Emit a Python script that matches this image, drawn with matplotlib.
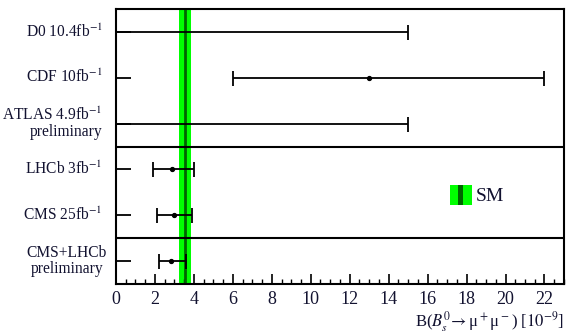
import matplotlib
matplotlib.use("Agg")
import matplotlib.pyplot as plt
from matplotlib.patches import Rectangle
from matplotlib.ticker import MultipleLocator

plt.rcParams['font.family'] = ['Liberation Serif', 'DejaVu Serif']
plt.rcParams['mathtext.fontset'] = 'stix'

txt_color = '#121230'
band_color = '#00ff00'
line_color = '#006400'

# measurements of B(Bs -> mu mu) in units of 1e-9
exp_labels = ['D0 10.4fb$^{-1}$', 'CDF 10fb$^{-1}$', 'ATLAS 4.9fb$^{-1}$\npreliminary',
              'LHCb 3fb$^{-1}$', 'CMS 25fb$^{-1}$', 'CMS+LHCb\npreliminary']
rows = [0.5, 1.5, 2.5, 3.5, 4.5, 5.5]

# upper limits (drawn as a bar from zero)
limit_rows = [0.5, 2.5]
limit_vals = [15.0, 15.0]

# measured values with asymmetric intervals
meas_rows = [1.5, 3.5, 4.5, 5.5]
meas_val = [13.0, 2.9, 3.0, 2.8]
meas_lo = [6.0, 1.9, 2.1, 2.2]
meas_hi = [22.0, 4.0, 3.9, 3.6]

# Standard Model prediction
sm_val = 3.56
sm_err = 0.30

separators = [3.0, 5.0]


class BandHandler:
    def legend_artist(self, legend, orig_handle, fontsize, handlebox):
        x0, y0 = -handlebox.xdescent, -handlebox.ydescent
        w, h = handlebox.width, handlebox.height
        tr = handlebox.get_transform()
        band = Rectangle((x0, y0), w, h, facecolor=band_color, edgecolor='none', transform=tr)
        core = Rectangle((x0 + 0.39 * w, y0), 0.22 * w, h, facecolor=line_color,
                         edgecolor='none', transform=tr)
        handlebox.add_artist(band)
        handlebox.add_artist(core)
        return band


fig = plt.figure(figsize=(5.67, 3.35), dpi=100)
ax = fig.add_axes([0.2046, 0.1522, 0.79, 0.8209])

sm_patch = ax.axvspan(sm_val - sm_err, sm_val + sm_err, color=band_color, lw=0, zorder=1)
ax.axvline(sm_val, color=line_color, lw=2, zorder=2)

for y in separators:
    ax.axhline(y, color='black', lw=1.5, zorder=3)

ax.errorbar(limit_vals, limit_rows, xerr=[limit_vals, [0] * len(limit_vals)],
            fmt='none', ecolor='black', elinewidth=1.3, capsize=5.4, capthick=1.3, zorder=4)

xerr_lo = [v - lo for v, lo in zip(meas_val, meas_lo)]
xerr_hi = [hi - v for v, hi in zip(meas_val, meas_hi)]
ax.errorbar(meas_val, meas_rows, xerr=[xerr_lo, xerr_hi], fmt='o', color='black',
            ms=2.8, elinewidth=1.3, capsize=5.4, capthick=1.3, zorder=4)

ax.set_xlim(0, 23)
ax.set_ylim(6, 0)
ax.xaxis.set_major_locator(MultipleLocator(2))
ax.xaxis.set_minor_locator(MultipleLocator(0.5))
ax.tick_params(axis='x', which='major', direction='in', length=7, width=1.2,
               labelsize=13, pad=5, labelcolor=txt_color, top=False)
ax.tick_params(axis='x', which='minor', direction='in', length=3.5, width=1.0, top=False)

ax.set_yticks(rows)
ax.set_yticklabels([''] * len(rows))
ax.tick_params(axis='y', direction='in', length=10.8, width=1.3, right=False)

for sp in ax.spines.values():
    sp.set_linewidth(1.5)

# experiment names next to the rows
lbl_tr = ax.get_yaxis_transform()
for lab, y in zip(exp_labels, rows):
    if lab.startswith('CMS+LHCb'):
        ax.text(-0.11, y, lab, transform=lbl_tr, ha='center', va='center',
                multialignment='center', fontsize=11.2, color=txt_color, linespacing=1.0)
    else:
        ax.text(-0.03, y, lab, transform=lbl_tr, ha='right', va='center',
                multialignment='right', fontsize=11.2, color=txt_color, linespacing=1.0)

ax.set_xlabel(r'B($B^0_s\!\rightarrow$μ$^+$μ$^-$) [$10^{-9}$]', loc='right',
              fontsize=12, color=txt_color, labelpad=1)

ax.legend([sm_patch], ['SM'], handler_map={type(sm_patch): BandHandler()},
          loc='center left', bbox_to_anchor=(0.745, 0.324), frameon=False,
          borderpad=0, borderaxespad=0, handlelength=1.15, handleheight=1.25,
          handletextpad=0.2, fontsize=14, labelcolor=txt_color)

fig.savefig('out.png', dpi=100)
